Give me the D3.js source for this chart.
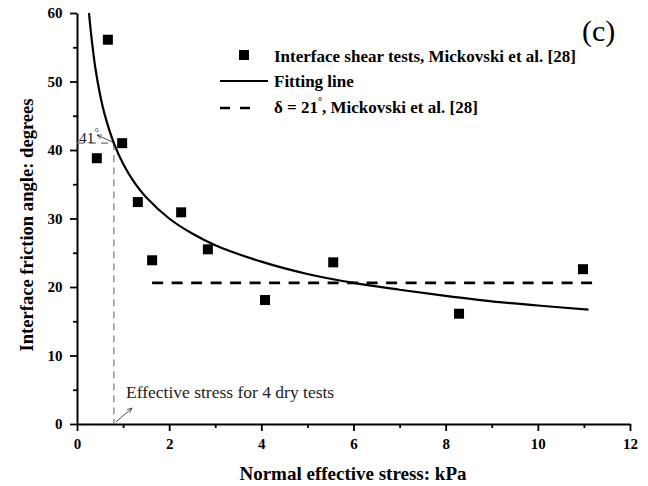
<!DOCTYPE html>
<html><head><meta charset="utf-8">
<script src="https://cdn.jsdelivr.net/npm/d3@7"></script>
<style>body{margin:0;background:#fff}svg{display:block}text{font-family:"Liberation Serif","Times New Roman",serif}</style>
</head><body><svg id="c" width="648" height="486"></svg>
<script>
// data
const testX = [0.43, 0.67, 0.98, 1.32, 1.63, 2.26, 2.84, 4.08, 5.56, 8.29, 10.98];
const testY = [38.8, 56.1, 41.0, 32.4, 23.9, 30.9, 25.5, 18.1, 23.6, 16.1, 22.6];
const fitX = [0.26, 0.3, 0.35, 0.4, 0.5, 0.6, 0.8, 1.0, 1.25, 1.5, 2, 2.5, 3, 4, 5, 6, 7, 8, 9, 10, 11.1];
const fitY = [60.0, 57.3, 54.4, 51.9, 48.1, 45.2, 41.0, 38.0, 35.2, 33.1, 30.0, 27.8, 26.1, 23.7, 21.9, 20.6, 19.6, 18.7, 17.9, 17.3, 16.7];
const deltaX = [1.63, 11.2];
const deltaY = [20.6, 20.6];
const xTicks = [0, 2, 4, 6, 8, 10, 12];
const yTicks = [0, 10, 20, 30, 40, 50, 60];
const dryStress = 0.8, dryAngle = 41;

const svg = d3.select("#c");
const x = d3.scaleLinear().domain([0, 12]).range([77, 630]);
const y = d3.scaleLinear().domain([0, 60]).range([424, 13]);

// axes
const xAxis = svg.append("g").attr("transform", "translate(0,424)")
  .call(d3.axisBottom(x).tickValues(xTicks).tickFormat(d3.format("d")).tickSize(7).tickSizeOuter(0));
const yAxis = svg.append("g").attr("transform", "translate(77,0)")
  .call(d3.axisLeft(y).tickValues(yTicks).tickFormat(d3.format("d")).tickSize(7).tickSizeOuter(0));
// minor ticks
svg.append("g").attr("transform", "translate(0,424)")
  .call(d3.axisBottom(x).tickValues([1,3,5,7,9,11]).tickFormat("").tickSize(4).tickSizeOuter(0))
  .select(".domain").remove();
svg.append("g").attr("transform", "translate(77,0)")
  .call(d3.axisLeft(y).tickValues([5,15,25,35,45,55]).tickFormat("").tickSize(4).tickSizeOuter(0))
  .select(".domain").remove();
svg.selectAll(".domain").attr("stroke", "#000").attr("stroke-width", 2);
svg.selectAll(".tick line").attr("stroke", "#000").attr("stroke-width", 1.8);
xAxis.selectAll(".tick text").attr("font-size", 15).attr("font-weight", "bold").attr("dy", "1.0em")
  .style("font-family", '"Liberation Serif",serif');
yAxis.selectAll(".tick text").attr("font-size", 15).attr("font-weight", "bold").attr("dx", "-0.3em")
  .style("font-family", '"Liberation Serif",serif');

// gray annotation lines
svg.append("line").attr("x1", x(dryStress)).attr("x2", x(dryStress)).attr("y1", y(dryAngle)).attr("y2", y(0))
  .attr("stroke", "#777").attr("stroke-width", 1.2).attr("stroke-dasharray", "7,5");
svg.append("line").attr("x1", x(0)).attr("x2", x(dryStress)).attr("y1", y(dryAngle)).attr("y2", y(dryAngle))
  .attr("stroke", "#777").attr("stroke-width", 1.2).attr("stroke-dasharray", "7,5");

// arrow markers
const defs = svg.append("defs");
defs.append("marker").attr("id", "ah").attr("viewBox", "0 0 10 10").attr("refX", 9).attr("refY", 5)
  .attr("markerWidth", 6).attr("markerHeight", 6).attr("orient", "auto")
  .append("path").attr("d", "M0,1 L9,5 L0,9").attr("fill", "none").attr("stroke", "#333").attr("stroke-width", 1.3);

svg.append("line").attr("x1", x(dryStress) + 1).attr("y1", y(dryAngle)).attr("x2", 97).attr("y2", 135)
  .attr("stroke", "#333").attr("stroke-width", 0.9).attr("marker-end", "url(#ah)");
svg.append("line").attr("x1", x(dryStress) + 2).attr("y1", 422).attr("x2", 132).attr("y2", 408)
  .attr("stroke", "#333").attr("stroke-width", 0.9).attr("marker-end", "url(#ah)");

const t41 = svg.append("text").attr("x", 79).attr("y", 143).attr("font-size", 15.5).attr("fill", "#222");
t41.append("tspan").text("41");
t41.append("tspan").attr("font-size", 11).attr("dy", -7).text("°");
svg.append("text").attr("x", 126).attr("y", 398).attr("font-size", 17.5).attr("fill", "#222")
  .text("Effective stress for 4 dry tests");

// fitting line
const line = d3.line().x(d => x(d[0])).y(d => y(d[1])).curve(d3.curveCatmullRom);
svg.append("path").datum(fitX.map((v, i) => [v, fitY[i]])).attr("d", line)
  .attr("fill", "none").attr("stroke", "#000").attr("stroke-width", 2.2);

// delta line
svg.append("path").datum(deltaX.map((v, i) => [v, deltaY[i]])).attr("d", d3.line().x(d => x(d[0])).y(d => y(d[1])))
  .attr("fill", "none").attr("stroke", "#000").attr("stroke-width", 2.6).attr("stroke-dasharray", "11,8.5");

// points
svg.selectAll("rect.pt").data(testX.map((v, i) => [v, testY[i]])).enter().append("rect")
  .attr("class", "pt").attr("x", d => x(d[0]) - 5).attr("y", d => y(d[1]) - 5)
  .attr("width", 10).attr("height", 10).attr("fill", "#000");

// legend
const lg = svg.append("g");
lg.append("rect").attr("x", 239).attr("y", 50).attr("width", 10).attr("height", 10).attr("fill", "#000");
lg.append("line").attr("x1", 220).attr("x2", 268).attr("y1", 81).attr("y2", 81).attr("stroke", "#000").attr("stroke-width", 2.2);
lg.append("line").attr("x1", 220).attr("x2", 252).attr("y1", 108).attr("y2", 108).attr("stroke", "#000").attr("stroke-width", 2.6).attr("stroke-dasharray", "10,10");
const lt = (yy) => lg.append("text").attr("x", 274).attr("y", yy).attr("font-size", 17).attr("font-weight", "bold");
lt(62).text("Interface shear tests, Mickovski et al. [28]");
lt(87).text("Fitting line");
const d21 = lt(113);
d21.append("tspan").text("δ = 21");
d21.append("tspan").attr("font-size", 10).attr("dy", -8).text("°");
d21.append("tspan").attr("dy", 8).text(", Mickovski et al. [28]");

// panel tag
svg.append("text").attr("x", 582).attr("y", 41).attr("font-size", 30).text("(c)");

// axis titles
svg.append("text").attr("x", 353).attr("y", 480).attr("text-anchor", "middle").attr("font-size", 19).attr("font-weight", "bold")
  .text("Normal effective stress: kPa");
svg.append("text").attr("transform", "translate(33,225) rotate(-90)").attr("text-anchor", "middle").attr("font-size", 18.6).attr("font-weight", "bold")
  .text("Interface friction angle: degrees");
</script></body></html>
